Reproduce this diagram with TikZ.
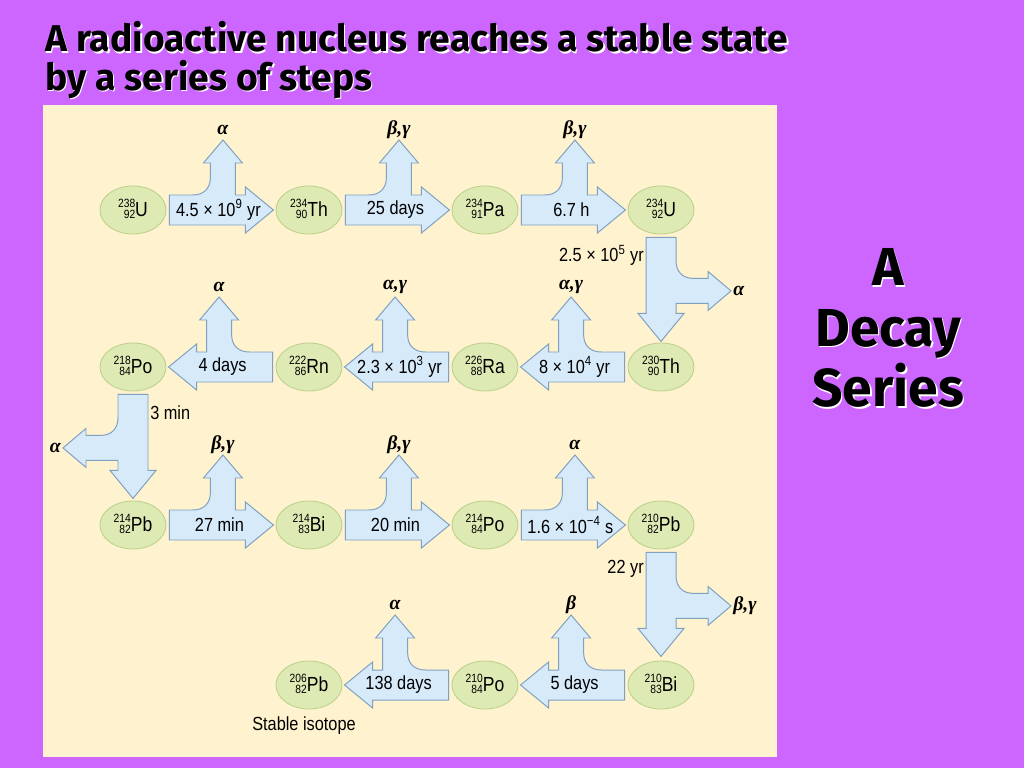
\documentclass[tikz,border=0pt]{standalone}
\usepackage{fontspec}
\setmainfont{Liberation Sans}
\newfontfamily\titlefont{Fira Sans}
\newfontfamily\labelfont{Liberation Sans}[FakeStretch=0.86]
\newfontfamily\greekfont{Liberation Serif}
\usetikzlibrary{shapes.geometric,calc}

\definecolor{slide}{RGB}{204,102,255}
\definecolor{panel}{RGB}{255,242,206}
\definecolor{nucfill}{RGB}{221,234,180}
\definecolor{nucline}{RGB}{188,208,140}
\definecolor{flowfill}{RGB}{214,234,250}
\definecolor{flowline}{RGB}{128,160,192}

% nuclide symbol, mass number over atomic number
\newcommand{\nuc}[3]{\raisebox{-1.5pt}{\fontsize{8.5}{8.5}\selectfont\renewcommand{\arraystretch}{0.72}%
  \begin{tabular}[b]{@{}r@{}}#1\\#2\end{tabular}}#3}

% fat decay arrow with a side branch, drawn from a node anchor
\newcommand{\branchflow}[2]{%
  \begin{scope}[shift={(#1)},#2]
    \filldraw[flow] (3,15) -- (79,15) -- (79,23) -- (107,0) -- (79,-23) -- (79,-15)
      -- (69,-15) -- (69,-47) -- (76,-47) -- (56.5,-70) -- (37,-47) -- (44,-47)
      -- (44,-33) .. controls (44,-21) and (37,-15) .. (26,-15) -- (3,-15) -- cycle;
  \end{scope}}

\begin{document}
\begin{tikzpicture}[x=0.025cm, y=-0.025cm,
  nucleus/.style={ellipse, draw=nucline, fill=nucfill, line width=0.6pt,
                  minimum width=1.65cm, minimum height=1.2cm, inner sep=0pt,
                  font=\labelfont\fontsize{14.5}{15}\selectfont},
  flow/.style={draw=flowline, fill=flowfill, line width=0.7pt},
  tlabel/.style={font=\labelfont\fontsize{13.5}{14}\selectfont, inner sep=0pt},
  ray/.style={font=\greekfont\bfseries\itshape\fontsize{14}{16}\selectfont, inner sep=0pt},
  heading/.style={font=\titlefont\bfseries\fontsize{26.5}{27.5}\selectfont, align=left, anchor=north west, inner sep=0pt},
  sidetitle/.style={font=\titlefont\bfseries\fontsize{38}{43}\selectfont, align=center, inner sep=0pt}
]
\fill[slide] (0,0) rectangle (1024,768);
\useasboundingbox (0,0) rectangle (1024,768);
\fill[panel] (43,105) rectangle (777,757);

% titles, white shadow under black text
\node[heading, text=white] at (46.5,22.5) {A radioactive nucleus reaches a stable state\\by a series of steps};
\node[heading] (title) at (45,21) {A radioactive nucleus reaches a stable state\\by a series of steps};
\node[sidetitle, text=white] at (889.5,329.5) {A\\Decay\\Series};
\node[sidetitle] (side) at (888,328) {A\\Decay\\Series};

% nuclei
\node[nucleus] (u238)  at (133,210) {\nuc{238}{92}{U}};
\node[nucleus] (th234) at (309,210) {\nuc{234}{90}{Th}};
\node[nucleus] (pa234) at (485,210) {\nuc{234}{91}{Pa}};
\node[nucleus] (u234)  at (661,210) {\nuc{234}{92}{U}};
\node[nucleus] (po218) at (133,367) {\nuc{218}{84}{Po}};
\node[nucleus] (rn222) at (309,367) {\nuc{222}{86}{Rn}};
\node[nucleus] (ra226) at (485,367) {\nuc{226}{88}{Ra}};
\node[nucleus] (th230) at (661,367) {\nuc{230}{90}{Th}};
\node[nucleus] (pb214) at (133,525) {\nuc{214}{82}{Pb}};
\node[nucleus] (bi214) at (309,525) {\nuc{214}{83}{Bi}};
\node[nucleus] (po214) at (485,525) {\nuc{214}{84}{Po}};
\node[nucleus] (pb210) at (661,525) {\nuc{210}{82}{Pb}};
\node[nucleus] (pb206) at (309,685) {\nuc{206}{82}{Pb}};
\node[nucleus] (po210) at (485,685) {\nuc{210}{84}{Po}};
\node[nucleus] (bi210) at (661,685) {\nuc{210}{83}{Bi}};

% decay arrows
\branchflow{u238.east}{}
\branchflow{th234.east}{}
\branchflow{pa234.east}{}
\branchflow{u234.south}{rotate=-90}
\branchflow{th230.west}{xscale=-1}
\branchflow{ra226.west}{xscale=-1}
\branchflow{rn222.west}{xscale=-1}
\branchflow{po218.south}{rotate=-90,yscale=-1}
\branchflow{pb214.east}{}
\branchflow{bi214.east}{}
\branchflow{po214.east}{}
\branchflow{pb210.south}{rotate=-90}
\branchflow{bi210.west}{xscale=-1}
\branchflow{po210.west}{xscale=-1}

% half-lives
\node[tlabel] (h1) at ($(u238.east)+(52,0)$) {4.5 × 10\textsuperscript{9} yr};
\node[tlabel] (h2) at ($(th234.east)+(53,0)$) {25 days};
\node[tlabel] (h3) at ($(pa234.east)+(53,0)$) {6.7 h};
\node[tlabel, anchor=east] (h4) at ($(u234.south)+(-17,21)$) {2.5 × 10\textsuperscript{5} yr};
\node[tlabel] (h5) at ($(th230.west)+(-53,0)$) {8 × 10\textsuperscript{4} yr};
\node[tlabel] (h6) at ($(ra226.west)+(-52,0)$) {2.3 × 10\textsuperscript{3} yr};
\node[tlabel] (h7) at ($(rn222.west)+(-53,0)$) {4 days};
\node[tlabel, anchor=west] (h8) at ($(po218.south)+(17,21)$) {3 min};
\node[tlabel] (h9) at ($(pb214.east)+(53,0)$) {27 min};
\node[tlabel] (h10) at ($(bi214.east)+(53,0)$) {20 min};
\node[tlabel] (h11) at ($(po214.east)+(52,0)$) {1.6 × 10\textsuperscript{−4} s};
\node[tlabel, anchor=east] (h12) at ($(pb210.south)+(-17,19)$) {22 yr};
\node[tlabel] (h13) at ($(bi210.west)+(-53,0)$) {5 days};
\node[tlabel] (h14) at ($(po210.west)+(-53,0)$) {138 days};

% emitted radiation
\node[ray] (e1) at ($(u238.east)+(56.5,-80)$) {α};
\node[ray] (e2) at ($(th234.east)+(56.5,-80)$) {β,γ};
\node[ray] (e3) at ($(pa234.east)+(56.5,-80)$) {β,γ};
\node[ray, anchor=west] (e4) at ($(u234.south)+(72,56.5)$) {α};
\node[ray] (e5) at ($(th230.west)+(-56.5,-80)$) {α,γ};
\node[ray] (e6) at ($(ra226.west)+(-56.5,-80)$) {α,γ};
\node[ray] (e7) at ($(rn222.west)+(-56.5,-80)$) {α};
\node[ray, anchor=east] (e8) at ($(po218.south)+(-72,56.5)$) {α};
\node[ray] (e9) at ($(pb214.east)+(56.5,-80)$) {β,γ};
\node[ray] (e10) at ($(bi214.east)+(56.5,-80)$) {β,γ};
\node[ray] (e11) at ($(po214.east)+(56.5,-80)$) {α};
\node[ray, anchor=west] (e12) at ($(pb210.south)+(72,56.5)$) {β,γ};
\node[ray] (e13) at ($(bi210.west)+(-56.5,-80)$) {β};
\node[ray] (e14) at ($(po210.west)+(-56.5,-80)$) {α};

\node[tlabel, anchor=west] (stable) at (252,726) {Stable isotope};
\end{tikzpicture}
\end{document}
